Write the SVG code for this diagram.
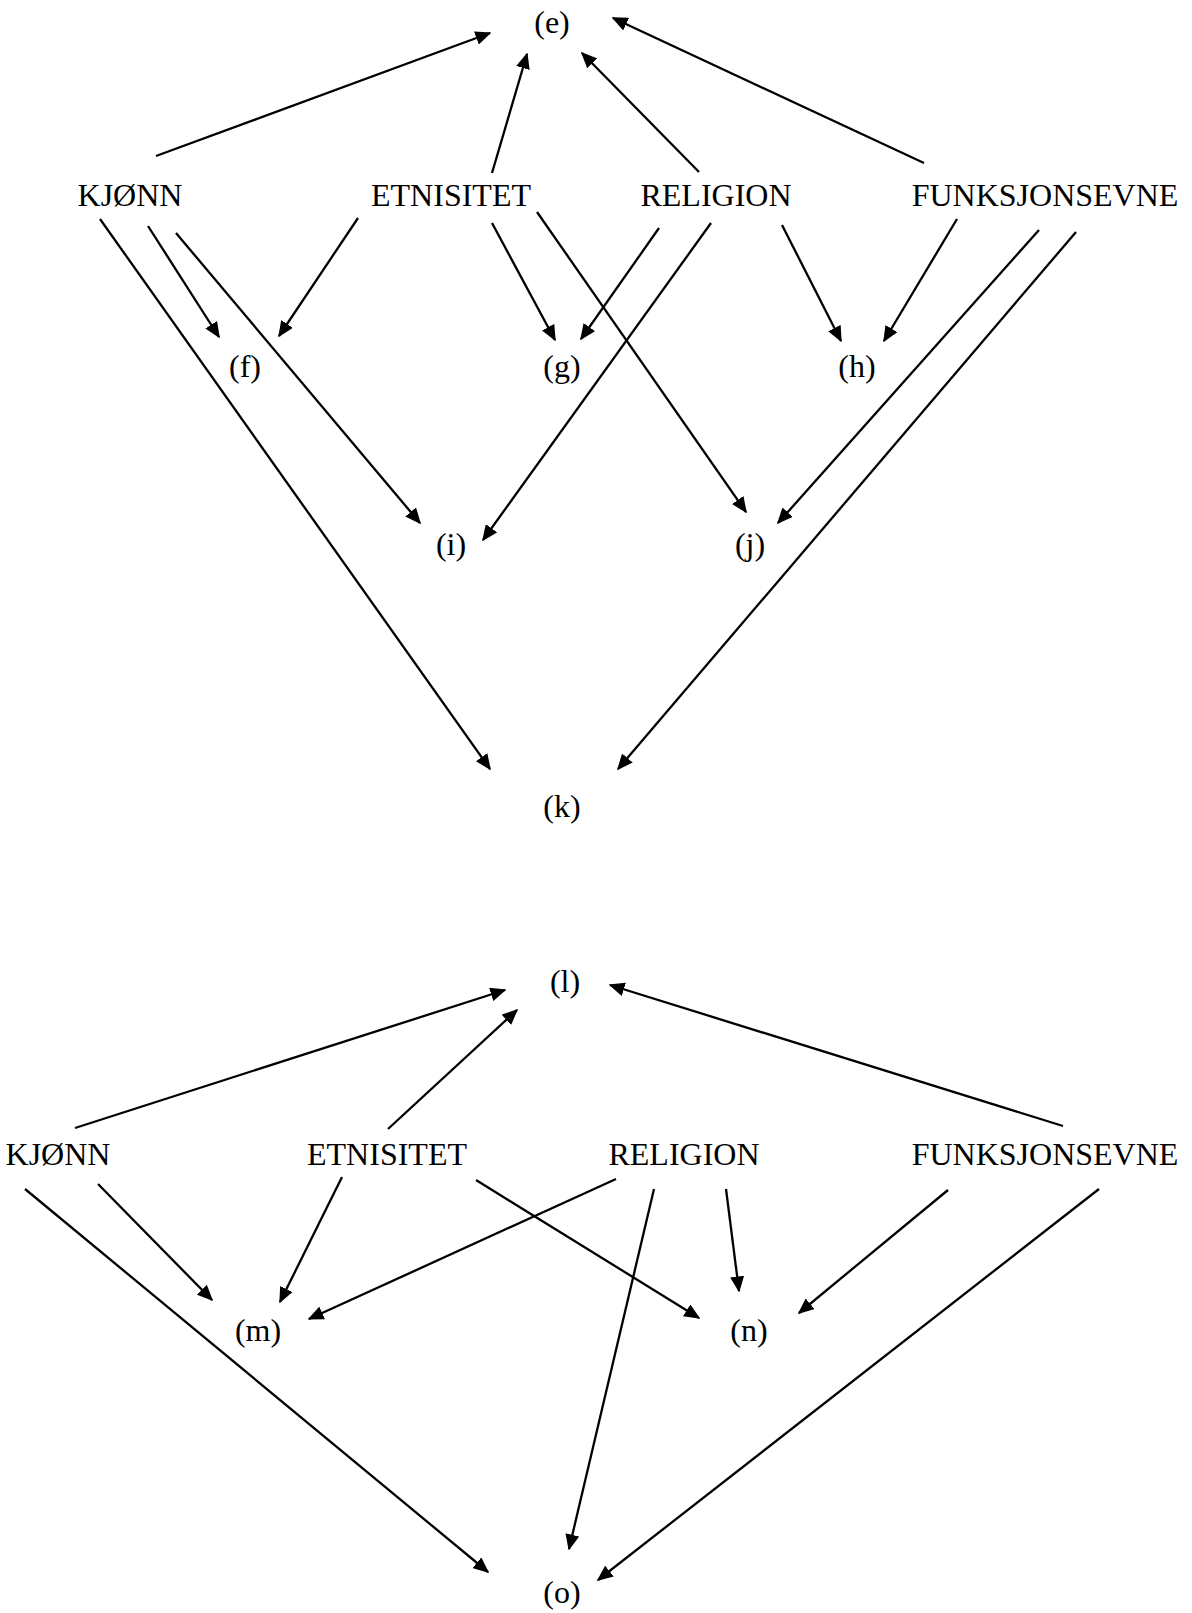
<svg xmlns="http://www.w3.org/2000/svg" width="1192" height="1613" viewBox="0 0 1192 1613">
<style>
text{font-family:"Liberation Serif","Times New Roman",serif;font-size:32px;fill:#000;text-anchor:middle}
.c line{stroke:#000;stroke-width:2.3;marker-end:url(#ah)}
</style>
<defs>
<marker id="ah" markerUnits="userSpaceOnUse" markerWidth="16" markerHeight="14" viewBox="0 0 16 14" refX="14.5" refY="7" orient="auto">
<path d="M0,0 L16,7 L0,14 z" fill="#000"/>
</marker>
</defs>
<rect width="1192" height="1613" fill="#fff"/>
<g id="top-nodes">
<g id="e"><text x="552" y="33">(e)</text></g>
<g id="kjonn1"><text x="130" y="206">KJØNN</text></g>
<g id="etnisitet1"><text x="451" y="206">ETNISITET</text></g>
<g id="religion1"><text x="716" y="206">RELIGION</text></g>
<g id="funksjonsevne1"><text x="1045" y="206">FUNKSJONSEVNE</text></g>
<g id="f"><text x="245" y="377">(f)</text></g>
<g id="g"><text x="562" y="377">(g)</text></g>
<g id="h"><text x="857" y="377">(h)</text></g>
<g id="i"><text x="451" y="555">(i)</text></g>
<g id="j"><text x="750" y="555">(j)</text></g>
<g id="k"><text x="562" y="817">(k)</text></g>
</g>
<g id="bottom-nodes">
<g id="l"><text x="565" y="992">(l)</text></g>
<g id="kjonn2"><text x="58" y="1165">KJØNN</text></g>
<g id="etnisitet2"><text x="387" y="1165">ETNISITET</text></g>
<g id="religion2"><text x="684" y="1165">RELIGION</text></g>
<g id="funksjonsevne2"><text x="1045" y="1165">FUNKSJONSEVNE</text></g>
<g id="m"><text x="258" y="1341">(m)</text></g>
<g id="n"><text x="749" y="1341">(n)</text></g>
<g id="o"><text x="562" y="1603">(o)</text></g>
</g>
<g id="connectors" class="c">
<line x1="156" y1="156" x2="490" y2="33"/>
<line x1="492" y1="173" x2="527" y2="54"/>
<line x1="699" y1="172" x2="582" y2="53"/>
<line x1="924" y1="163" x2="613" y2="18"/>
<line x1="148" y1="226" x2="219" y2="337"/>
<line x1="358" y1="218" x2="279" y2="336"/>
<line x1="492" y1="223" x2="555" y2="340"/>
<line x1="659" y1="228" x2="581" y2="339"/>
<line x1="782" y1="225" x2="841" y2="341"/>
<line x1="957" y1="219" x2="884" y2="341"/>
<line x1="176" y1="233" x2="420" y2="523"/>
<line x1="711" y1="223" x2="483" y2="540"/>
<line x1="537" y1="212" x2="746" y2="512"/>
<line x1="1039" y1="230" x2="778" y2="523"/>
<line x1="100" y1="219" x2="490" y2="769"/>
<line x1="1076" y1="232" x2="618" y2="769"/>
<line x1="75" y1="1128" x2="505" y2="990"/>
<line x1="388" y1="1129" x2="517" y2="1010"/>
<line x1="1063" y1="1126" x2="610" y2="985"/>
<line x1="98" y1="1184" x2="212" y2="1300"/>
<line x1="342" y1="1177" x2="280" y2="1302"/>
<line x1="616" y1="1179" x2="309" y2="1319"/>
<line x1="476" y1="1180" x2="699" y2="1318"/>
<line x1="726" y1="1189" x2="739" y2="1291"/>
<line x1="948" y1="1190" x2="799" y2="1313"/>
<line x1="25" y1="1189" x2="488" y2="1572"/>
<line x1="654" y1="1189" x2="569" y2="1549"/>
<line x1="1099" y1="1189" x2="598" y2="1580"/>
</g>
</svg>
